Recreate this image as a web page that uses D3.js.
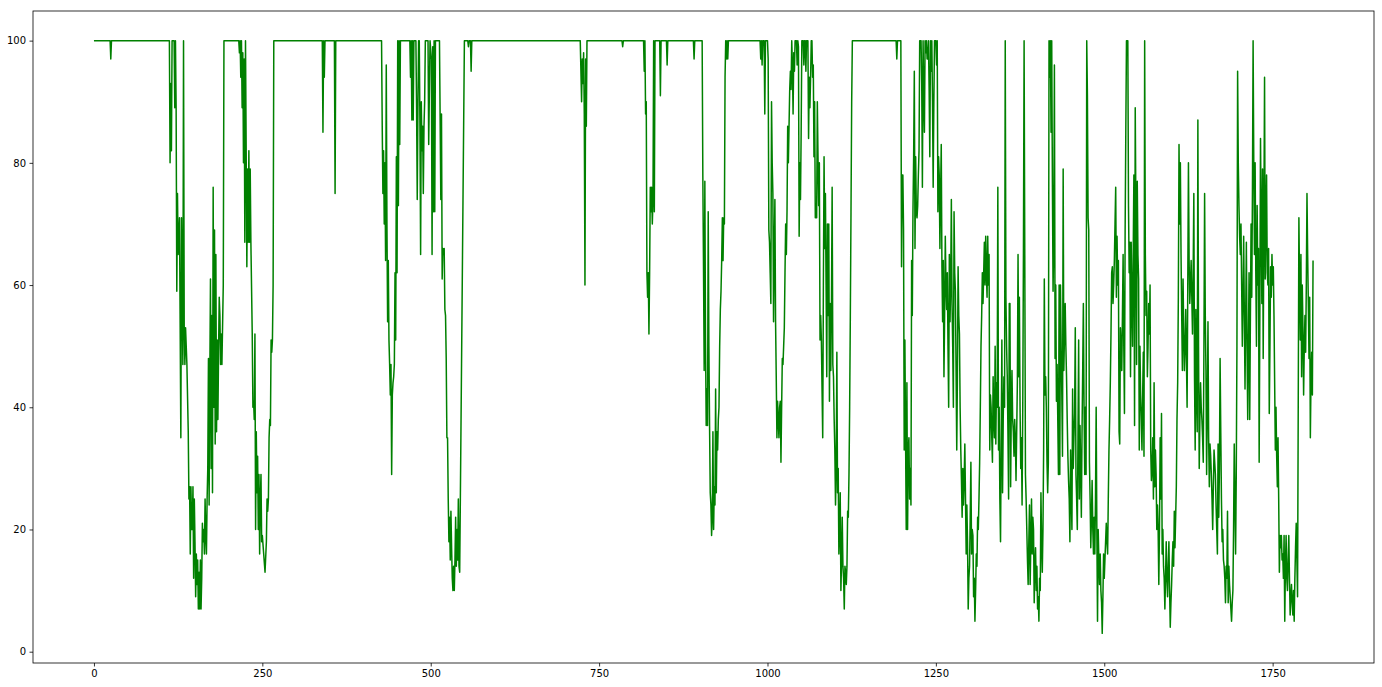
<!DOCTYPE html>
<html>
<head>
<meta charset="utf-8">
<script src="https://cdn.jsdelivr.net/npm/d3@7"></script>
<style>
  html, body { margin: 0; padding: 0; background: #ffffff; }
  svg { display: block; }
  .tick text { font-family: "DejaVu Sans", sans-serif; font-size: 10px; fill: #000; }
</style>
</head>
<body>
<svg id="chart" width="1382" height="687"></svg>
<script>
// ---- data: [index, value] readings along the series ----
const readings = [
[0,100],[24,100],[25,97],[26,100],[112,100],[113,80],[114,93],[115,82],[116,100],[119,100],[120,89],[121,100],[122,89],[123,59],[124,75],[125,65],[127,71],[128,53],[129,35],[130,71],[131,60],[132,47],[133,100],[134,53],[135,47],[136,53],[138,47],[140,36],[141,25],[142,27],[143,16],[144,27],[145,20],
[146,20],[147,27],[148,12],[149,25],[150,18],[151,9],[152,16],[153,11],[154,15],[155,7],[156,13],[157,7],[158,15],[159,7],[160,12],[161,21],[162,18],[163,20],[164,16],[165,25],[166,19],[167,16],[168,25],[169,30],[170,48],[171,24],[172,45],[173,61],[174,30],[175,55],[176,26],[177,76],[178,40],[179,69],[180,34],[181,65],[182,36],[183,51],[184,38],[185,49],[186,58],[187,55],[188,47],[189,52],[190,47],[192,60],[193,100],
[215,100],[216,98],[217,100],[218,94],[219,100],[220,89],[221,98],[222,80],[223,97],[224,67],[225,100],[226,82],[227,63],[228,79],[229,67],[230,82],[231,67],[232,79],[233,67],[235,52],[236,40],[237,41],[238,38],[239,52],[240,20],[241,36],[242,26],[243,32],[244,20],[245,29],[246,16],[247,25],[248,29],[249,18],[250,19],[252,16],[254,13],[256,18],[257,25],[258,23],[259,25],[260,35],[261,38],[262,37],[263,51],[264,49],[265,51],[266,60],[267,100],
[339,100],[340,85],[341,100],[342,94],[343,100],[357,100],[358,75],[359,100],[427,100],[428,86],[429,75],[430,82],[431,70],[432,80],[433,64],[434,96],[435,70],[436,54],[437,64],[438,51],[439,47],[440,42],[441,47],[442,29],[443,42],[444,44],[445,45],[446,47],[447,62],[448,51],[449,81],
[450,62],[451,100],[452,73],[453,100],[454,83],[455,100],[469,100],[470,94],[471,100],[472,87],[473,100],[474,87],[475,100],[478,100],[479,89],[480,74],[481,89],[482,100],[483,100],[484,86],[485,65],[486,90],[487,82],[488,86],[489,75],[490,86],[491,90],[492,100],[496,100],[497,83],[499,100],[501,97],[502,65],[503,99],[504,72],[505,100],[506,72],[507,100],[513,100],[514,87],[515,74],[516,88],[517,61],[518,66],[519,65],[520,66],[521,56],[522,55],[523,48],[524,35],[525,35],[526,25],[527,18],[528,22],[529,15],[530,23],[531,17],[532,12],[533,10],[534,14],[535,10],[536,15],[537,22],[538,14],[539,20],[540,15],[541,25],[542,14],[543,13],[544,25],[550,100],[555,100],[556,99],[557,100],[559,100],[560,95],[561,100],
[722,100],[724,90],[725,97],[726,93],[727,98],[728,88],[729,60],[730,97],[731,86],[732,100],[784,100],[785,99],[786,100],[816,100],[817,95],[818,100],[819,88],[820,90],[821,62],[822,58],[823,62],[824,52],[825,62],[826,76],[827,72],[828,76],[829,70],[830,74],[831,100],[832,72],[833,100],[840,100],[841,91],[842,100],[850,100],[851,96],[852,100],[890,100],[891,97],[892,100],
[903,100],[904,78],[905,63],[906,46],[907,77],[908,51],[909,37],[910,43],[911,37],[912,72],[913,50],[914,37],[915,26],[916,24],[917,19],[918,22],[919,36],[920,20],[921,27],[922,24],[923,43],[924,26],[925,36],[926,33],[927,38],[928,40],[929,50],[930,56],[931,59],[932,64],[933,71],[934,64],[935,71],[936,70],[937,94],[938,100],[939,97],[940,100],[941,97],[942,100],
[989,100],[990,97],[991,100],[992,96],[993,100],[995,100],[996,88],[997,100],[1000,100],[1001,97],[1002,69],[1003,67],[1004,62],[1005,57],[1006,90],[1007,80],[1008,75],[1009,54],[1010,65],[1011,74],[1012,54],[1013,45],[1014,35],[1015,41],[1016,38],[1017,35],[1018,40],[1019,41],[1020,31],[1021,40],[1022,48],[1023,47],[1024,50],[1025,53],[1026,62],[1027,70],[1028,65],[1029,72],[1030,86],[1031,80],[1032,86],[1033,92],[1034,95],[1035,92],[1036,100],[1037,96],[1038,88],[1039,98],[1040,95],[1041,100],[1043,100],[1044,96],[1045,100],[1046,99],[1047,68],[1048,80],[1049,74],[1050,85],[1051,100],
[1053,100],[1054,96],[1055,100],[1056,100],[1057,95],[1058,100],[1060,100],[1061,84],[1062,94],[1063,89],[1064,94],[1065,100],[1066,100],[1067,94],[1068,96],[1069,81],[1070,90],[1071,71],[1072,72],[1073,71],[1074,90],[1075,81],[1076,73],[1077,80],[1078,51],[1079,55],[1080,51],[1082,35],[1083,60],[1084,81],[1085,66],[1086,75],[1087,60],[1088,45],[1089,70],[1090,55],[1091,70],[1092,41],[1093,57],[1094,46],[1095,57],[1096,76],[1097,47],[1098,45],[1099,38],[1100,33],[1101,24],[1102,30],[1103,49],[1104,26],[1105,30],[1106,16],[1107,20],[1108,26],[1109,10],[1110,15],[1111,22],[1112,14],[1113,12],[1114,7],[1115,14],[1116,13],[1117,11],[1118,14],[1119,23],[1120,22],[1121,29],[1122,40],[1123,55],[1124,72],[1125,90],[1126,100],
[1191,100],[1192,97],[1193,100],[1198,100],[1199,63],[1200,78],[1201,78],[1202,69],[1203,33],[1204,51],[1205,35],[1206,20],
[1207,44],[1208,20],[1209,33],[1210,35],[1211,25],[1212,30],[1213,24],[1214,64],[1215,55],[1216,72],[1217,81],[1218,95],[1219,66],[1220,81],[1221,72],[1222,71],[1223,73],[1224,78],[1225,82],[1226,100],[1227,100],[1228,100],[1229,93],[1230,76],[1231,100],[1232,91],[1233,85],[1234,100],[1235,98],[1236,100],[1237,97],[1238,97],[1239,100],[1240,92],[1241,81],[1242,100],[1243,95],[1244,100],[1245,90],[1246,76],[1247,90],[1248,100],[1249,100],[1250,100],[1251,96],[1252,100],[1253,72],[1254,81],[1255,78],[1256,66],[1257,75],[1258,83],[1259,63],[1260,54],[1261,64],[1262,45],[1263,55],[1264,68],[1265,60],[1266,56],[1267,62],[1268,50],[1269,40],[1270,65],[1271,54],[1272,60],[1273,74],[1274,57],[1275,50],[1276,40],[1277,72],[1278,62],[1279,59],[1280,46],[1281,33],[1282,45],[1283,63],[1284,55],[1285,52],[1286,40],[1287,33],[1288,28],[1289,22],[1290,30],[1291,24],[1292,28],[1293,34],[1294,25],[1295,16],[1296,24],[1297,18],[1298,7],[1299,12],[1300,14],[1301,22],[1302,31],[1303,16],[1304,20],[1305,19],[1306,9],[1307,12],[1308,5],[1309,10],[1310,16],[1311,14],[1312,22],[1313,20],[1314,25],[1315,31],[1316,40],[1317,50],[1318,55],[1319,62],[1320,57],[1321,62],[1322,67],[1323,60],[1324,68],[1325,62],[1326,58],[1327,68],[1328,60],[1329,65],[1330,33],[1331,42],[1332,40],[1333,35],[1334,31],[1335,45],[1336,38],[1337,35],[1338,50],[1339,34],[1340,44],[1341,40],[1342,76],[1343,33],[1344,40],[1345,25],[1346,18],[1347,35],[1348,51],[1349,26],[1350,38],[1351,45],[1352,40],[1353,100],[1354,58],[1355,50],[1356,45],[1357,36],[1358,25],[1359,57],
[1360,57],[1361,27],[1362,40],[1363,46],[1364,38],[1365,36],[1366,32],[1367,38],[1368,35],[1369,28],[1370,36],[1371,44],[1372,65],[1373,45],[1374,58],[1375,40],[1376,30],[1377,35],[1378,24],[1379,40],[1380,65],[1381,100],[1382,65],[1383,29],[1384,25],[1385,20],[1386,15],[1387,11],[1388,18],[1389,24],[1390,11],[1391,18],[1392,25],[1393,16],[1394,22],[1395,20],[1396,8],[1397,14],[1398,17],[1399,10],[1400,14],[1401,7],[1402,9],[1403,5],[1404,12],[1405,10],[1406,26],[1407,18],[1408,13],[1409,20],[1410,33],[1411,61],[1412,42],[1413,45],[1414,40],[1415,31],[1416,26],[1417,31],[1418,100],[1419,94],[1420,100],[1421,85],[1422,100],[1423,77],[1424,59],[1425,68],[1426,96],[1427,48],[1428,60],[1429,41],[1430,47],[1431,38],[1432,29],[1433,60],[1434,29],[1435,60],[1436,50],[1437,42],[1438,32],[1439,79],[1440,46],[1441,52],[1442,57],[1443,50],[1444,45],[1445,38],[1446,32],[1447,28],[1448,25],[1449,18],[1450,33],[1451,26],[1452,20],[1453,43],[1454,30],[1455,35],[1456,39],[1457,53],[1458,29],[1459,25],[1460,20],[1461,35],[1462,51],[1463,25],[1464,37],[1465,30],[1466,22],[1467,36],[1468,46],[1469,57],[1470,40],[1471,29],[1472,40],[1473,29],[1474,100],[1475,91],[1476,71],[1477,69],[1478,31],[1479,25],[1480,17],[1481,22],[1482,28],[1483,20],[1484,16],[1485,22],[1486,16],[1487,25],[1488,40],[1489,20],[1490,5],[1491,20],[1492,15],[1493,11],[1494,16],[1495,10],[1496,8],[1497,3],[1498,9],[1499,16],[1500,12],[1501,15],[1502,18],[1503,21],[1504,18],[1505,16],[1506,25],[1507,33],[1508,38],[1509,44],[1510,52],[1511,62],
[1512,63],[1513,57],[1514,60],[1515,64],[1516,70],[1517,76],[1518,58],[1519,68],[1520,60],[1521,64],[1522,36],[1523,34],[1524,53],[1525,50],[1526,46],[1527,55],[1528,65],[1529,50],[1530,39],[1531,69],[1532,85],[1533,100],[1534,100],[1535,100],[1536,73],[1537,62],[1538,67],[1539,45],[1540,67],[1541,58],[1542,50],[1543,65],[1544,78],[1545,37],[1546,89],[1547,72],[1548,47],[1549,77],[1550,65],[1551,61],[1552,33],[1553,50],[1554,42],[1555,38],[1556,33],[1557,42],[1558,49],[1559,32],[1560,100],[1561,65],[1562,55],[1563,59],[1564,45],[1565,50],[1566,57],[1567,52],[1568,60],[1569,33],[1570,28],[1571,30],[1572,35],[1573,25],[1574,44],[1575,27],[1576,33],[1577,29],[1578,20],[1579,24],[1580,20],[1581,11],[1582,20],[1583,35],[1584,25],[1585,39],[1586,16],[1587,20],[1588,14],[1589,12],[1590,7],[1591,12],[1592,18],[1593,12],[1594,9],[1595,14],[1596,18],[1597,10],[1598,4],[1599,8],[1600,11],[1601,15],[1602,18],[1603,14],[1604,23],[1605,17],[1606,22],[1607,27],[1608,38],[1609,44],[1610,58],[1611,83],[1612,70],[1613,80],[1614,65],[1615,55],[1616,46],[1617,61],[1618,52],[1619,46],[1620,50],[1621,56],[1622,48],[1623,40],[1624,60],[1625,80],[1626,64],[1627,57],[1628,60],[1629,64],[1630,58],[1631,52],[1632,62],[1633,75],[1634,45],[1635,33],[1636,56],[1637,42],[1638,36],[1639,87],[1640,50],[1641,30],[1642,38],[1643,44],[1644,40],[1645,38],[1646,35],[1647,31],[1648,50],[1649,75],[1650,55],[1651,46],[1652,29],[1653,40],[1654,54],[1655,35],[1656,27],[1657,34],[1658,32],[1659,29],[1660,25],[1661,20],[1662,27],
[1663,33],[1664,31],[1665,29],[1666,24],[1667,20],[1668,16],[1669,34],[1670,22],[1671,30],[1672,48],[1673,36],[1674,25],[1675,18],[1676,20],[1677,15],[1678,14],[1679,12],[1680,8],[1681,14],[1682,12],[1683,23],[1684,8],[1685,14],[1686,11],[1687,9],[1688,7],[1689,5],[1690,8],[1691,10],[1692,20],[1693,34],[1694,25],[1695,16],[1696,29],[1697,50],[1698,95],[1699,80],[1700,73],[1701,68],[1702,65],[1703,70],[1704,60],[1705,50],[1706,58],[1707,68],[1708,55],[1709,43],[1710,55],[1711,67],[1712,50],[1713,38],[1714,50],[1715,62],[1716,38],[1717,55],[1718,70],[1719,58],[1720,75],[1721,100],[1722,80],[1723,65],[1724,80],[1725,62],[1726,50],[1727,73],[1728,60],[1729,66],[1730,31],[1731,55],[1732,84],[1733,70],[1734,57],[1735,79],[1736,48],[1737,70],[1738,94],[1739,61],[1740,70],[1741,78],[1742,62],[1743,60],[1744,66],[1745,39],[1746,50],[1747,63],[1748,58],[1749,65],[1750,60],[1751,63],[1752,55],[1753,44],[1754,33],[1755,40],[1756,32],[1757,27],[1758,35],[1759,25],[1760,13],[1761,19],[1762,17],[1763,19],[1764,15],[1765,16],[1766,12],[1767,19],[1768,5],[1769,14],[1770,19],[1771,12],[1772,10],[1773,15],[1774,19],[1775,12],[1776,6],[1777,9],[1778,11],[1779,8],[1780,6],[1781,10],[1782,5],[1783,12],[1784,17],[1785,21],[1786,15],[1787,9],[1788,40],[1789,71],[1790,60],[1791,51],[1792,65],[1793,45],[1794,60],[1795,53],[1796,42],[1797,50],[1798,55],[1799,49],[1800,60],[1801,75],[1802,65],[1803,57],[1804,48],[1805,58],[1806,35],[1807,45],[1808,49],[1809,42],[1810,64]
];
const xTicks = [0, 250, 500, 750, 1000, 1250, 1500, 1750];
const yTicks = [0, 20, 40, 60, 80, 100];

// ---- layout ----
const W = 1382, H = 687;
const plot = { left: 33, top: 11, right: 1374, bottom: 663 };

const xExt = d3.extent(readings, d => d[0]);
const yExt = d3.extent(readings, d => d[1]);
const xPad = (xExt[1] - xExt[0]) * 0.05;
const yPad = (yExt[1] - yExt[0]) * 0.05;

const x = d3.scaleLinear().domain([xExt[0] - xPad, xExt[1] + xPad]).range([plot.left, plot.right]);
const y = d3.scaleLinear().domain([yExt[0] - yPad, yExt[1] + yPad]).range([plot.bottom, plot.top]);

const svg = d3.select("#chart");
svg.append("rect").attr("width", W).attr("height", H).attr("fill", "#ffffff");

const line = d3.line().x(d => x(d[0])).y(d => y(d[1]));
svg.append("path")
  .datum(readings)
  .attr("d", line)
  .attr("fill", "none")
  .attr("stroke", "#008000")
  .attr("stroke-width", 1.5)
  .attr("stroke-linejoin", "round");

// frame
svg.append("rect")
  .attr("x", plot.left).attr("y", plot.top)
  .attr("width", plot.right - plot.left).attr("height", plot.bottom - plot.top)
  .attr("fill", "none").attr("stroke", "#000").attr("stroke-width", 0.8);

const xAxis = svg.append("g")
  .attr("transform", `translate(0,${plot.bottom})`)
  .call(d3.axisBottom(x).tickValues(xTicks).tickFormat(d3.format("d")).tickSize(3.5).tickPadding(3.5).tickSizeOuter(0));
const yAxis = svg.append("g")
  .attr("transform", `translate(${plot.left},0)`)
  .call(d3.axisLeft(y).tickValues(yTicks).tickFormat(d3.format("d")).tickSize(3.5).tickPadding(3.5).tickSizeOuter(0));
[xAxis, yAxis].forEach(g => {
  g.select(".domain").remove();
  g.selectAll(".tick line").attr("stroke", "#000").attr("stroke-width", 0.8);
  g.attr("font-family", null).attr("font-size", null);
});
</script>
</body>
</html>
